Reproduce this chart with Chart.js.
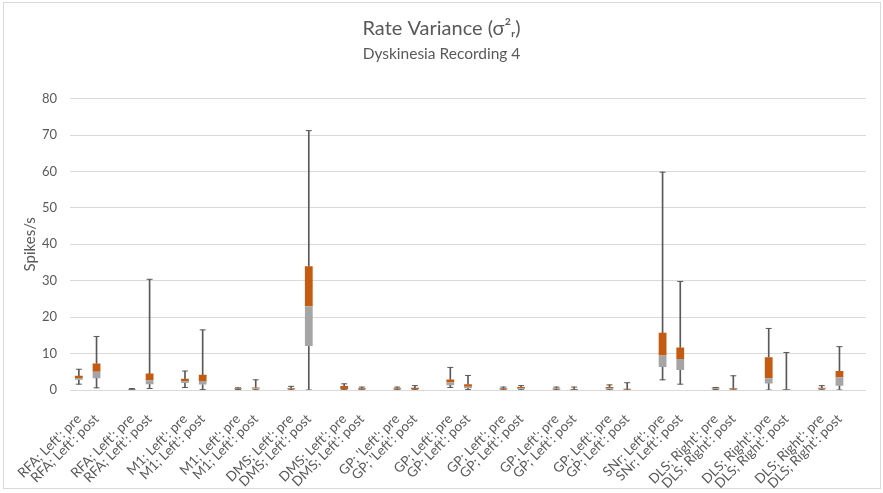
<!DOCTYPE html>
<html>
<head>
<meta charset="utf-8">
<script src="https://cdn.jsdelivr.net/npm/chart.js@4.4.0/dist/chart.umd.min.js"></script>
<style>
  html, body { margin: 0; padding: 0; background: #ffffff; }
  #wrap { position: relative; width: 883px; height: 493px; }
  #frame { position: absolute; left: 3px; top: 2px; width: 876px; height: 485px;
           border: 1px solid #d9d9d9; pointer-events: none; }
</style>
</head>
<body>
<div id="wrap">
  <canvas id="c" width="883" height="493"></canvas>
  <div id="frame"></div>
</div>
<script>
// Recording sites, pre / post for each unit
const units = [
  "RFA; Left': pre", "RFA; Left': post",
  "RFA; Left': pre", "RFA; Left': post",
  "M1; Left': pre", "M1; Left': post",
  "M1; Left': pre", "M1; Left': post",
  "DMS; Left': pre", "DMS; Left': post",
  "DMS; Left': pre", "DMS; Left': post",
  "GP; 'Left': pre", "GP; 'Left': post",
  "GP; Left': pre", "GP; Left': post",
  "GP; Left': pre", "GP; Left': post",
  "GP; Left': pre", "GP; Left': post",
  "GP; Left': pre", "GP; Left': post",
  "SNr; Left': pre", "SNr; Left': post",
  "DLS; Right': pre", "DLS; Right': post",
  "DLS; Right': pre", "DLS; Right': post",
  "DLS; Right': pre", "DLS; Right': post"
];

// Five-number summaries of rate variance (spikes/s)
const minVals = [1.6, 0.6, 0.05, 0.4, 0.7, 0.1, 0.1, 0.05, 0.05, 0,
                 0.05, 0.05, 0.05, 0.05, 0.7, 0.1, 0.05, 0.05, 0.05, 0,
                 0.05, 0, 2.8, 1.6, 0.1, 0, 0, 0, 0.05, 0];
const q1Vals  = [2.8, 3.2, 0.1, 1.6, 1.9, 1.5, 0.2, 0.2, 0.2, 12.1,
                 0.15, 0.1, 0.15, 0.15, 1.3, 0.5, 0.15, 0.2, 0.15, 0.05,
                 0.15, 0.05, 6.3, 5.5, 0.2, 0.1, 1.8, 0, 0.2, 1.2];
const medVals = [3.3, 5.0, 0.15, 2.7, 2.4, 2.5, 0.35, 0.4, 0.3, 23.0,
                 0.3, 0.2, 0.3, 0.3, 2.05, 0.9, 0.3, 0.5, 0.35, 0.1,
                 0.5, 0.15, 9.5, 8.5, 0.4, 0.2, 3.2, 0.05, 0.35, 3.5];
const q3Vals  = [3.9, 7.3, 0.3, 4.5, 3.1, 4.2, 0.5, 0.7, 0.5, 34.0,
                 1.1, 0.5, 0.5, 0.6, 2.9, 1.6, 0.5, 0.8, 0.5, 0.3,
                 0.8, 0.35, 15.7, 11.7, 0.6, 0.5, 9.0, 0.2, 0.6, 5.2];
const maxVals = [5.7, 14.7, 0.4, 30.4, 5.2, 16.5, 0.6, 2.8, 1.0, 71.2,
                 1.7, 0.8, 0.8, 1.2, 6.2, 4.0, 0.8, 1.2, 0.8, 0.8,
                 1.4, 2.0, 59.8, 29.8, 0.7, 3.9, 16.9, 10.3, 1.2, 11.9];

const yTicks = { min: 0, max: 80, step: 10 };

// Build category slots: each pre/post pair is followed by an empty slot
const labels = [], lowBox = [], highBox = [], lowWhisker = [], highWhisker = [], minCap = [], maxCap = [];
units.forEach((u, i) => {
  labels.push(u);
  lowBox.push([q1Vals[i], medVals[i]]);
  highBox.push([medVals[i], q3Vals[i]]);
  lowWhisker.push([minVals[i], q1Vals[i]]);
  highWhisker.push([q3Vals[i], maxVals[i]]);
  minCap.push(minVals[i]);
  maxCap.push(maxVals[i]);
  if (i % 2 === 1) {
    labels.push('');
    [lowBox, highBox, lowWhisker, highWhisker, minCap, maxCap].forEach(a => a.push(null));
  }
});

const GRAY = '#A5A5A5', ORANGE = '#C55A11', WHISKER = '#595959', TEXT = '#595959';

const boxCommon = { grouped: false, categoryPercentage: 1, barPercentage: 0.44, borderWidth: 0, order: 2 };
const whiskerCommon = { grouped: false, barThickness: 1, backgroundColor: WHISKER, borderWidth: 0, order: 3 };
const capCommon = { type: 'line', showLine: false, pointStyle: 'line', pointRadius: 3,
                    pointBorderColor: WHISKER, borderColor: WHISKER, pointBorderWidth: 1, order: 1 };

new Chart(document.getElementById('c'), {
  type: 'bar',
  data: {
    labels: labels,
    datasets: [
      Object.assign({ label: 'Q1-Median', data: lowBox, backgroundColor: GRAY }, boxCommon),
      Object.assign({ label: 'Median-Q3', data: highBox, backgroundColor: ORANGE }, boxCommon),
      Object.assign({ label: 'Lower whisker', data: lowWhisker }, whiskerCommon),
      Object.assign({ label: 'Upper whisker', data: highWhisker }, whiskerCommon),
      Object.assign({ label: 'Min', data: minCap }, capCommon),
      Object.assign({ label: 'Max', data: maxCap }, capCommon)
    ]
  },
  options: {
    responsive: false,
    animation: false,
    layout: { padding: { left: 17, right: 17, top: 2, bottom: 3 } },
    plugins: {
      legend: { display: false },
      tooltip: { enabled: false },
      title: {
        display: true,
        text: 'Rate Variance (σ²ᵣ)',
        color: TEXT,
        font: { family: 'Lato', size: 20, weight: 'normal' },
        padding: { top: 15, bottom: 2 }
      },
      subtitle: {
        display: true,
        text: 'Dyskinesia Recording 4',
        color: TEXT,
        font: { family: 'Lato', size: 15.5, weight: 'normal' },
        padding: { top: 2, bottom: 35 }
      }
    },
    scales: {
      x: {
        grid: { display: false },
        border: { display: false },
        ticks: {
          autoSkip: false, maxRotation: 45, minRotation: 45,
          color: TEXT, font: { family: 'Lato', size: 13.5 }, padding: 13
        },
        afterFit: (scale) => { scale.height = 100; scale.paddingLeft = 0; scale.paddingRight = 0; }
      },
      y: {
        min: yTicks.min, max: yTicks.max,
        border: { display: false },
        grid: { color: '#d9d9d9', drawTicks: false },
        ticks: { stepSize: yTicks.step, color: TEXT, font: { family: 'Lato', size: 13 }, padding: 13 },
        title: {
          display: true, text: 'Spikes/s', color: TEXT,
          font: { family: 'Lato', size: 15 }, padding: { top: 4, bottom: 4 }
        },
        afterFit: (scale) => { scale.width = 53; }
      }
    }
  }
});
</script>
</body>
</html>
